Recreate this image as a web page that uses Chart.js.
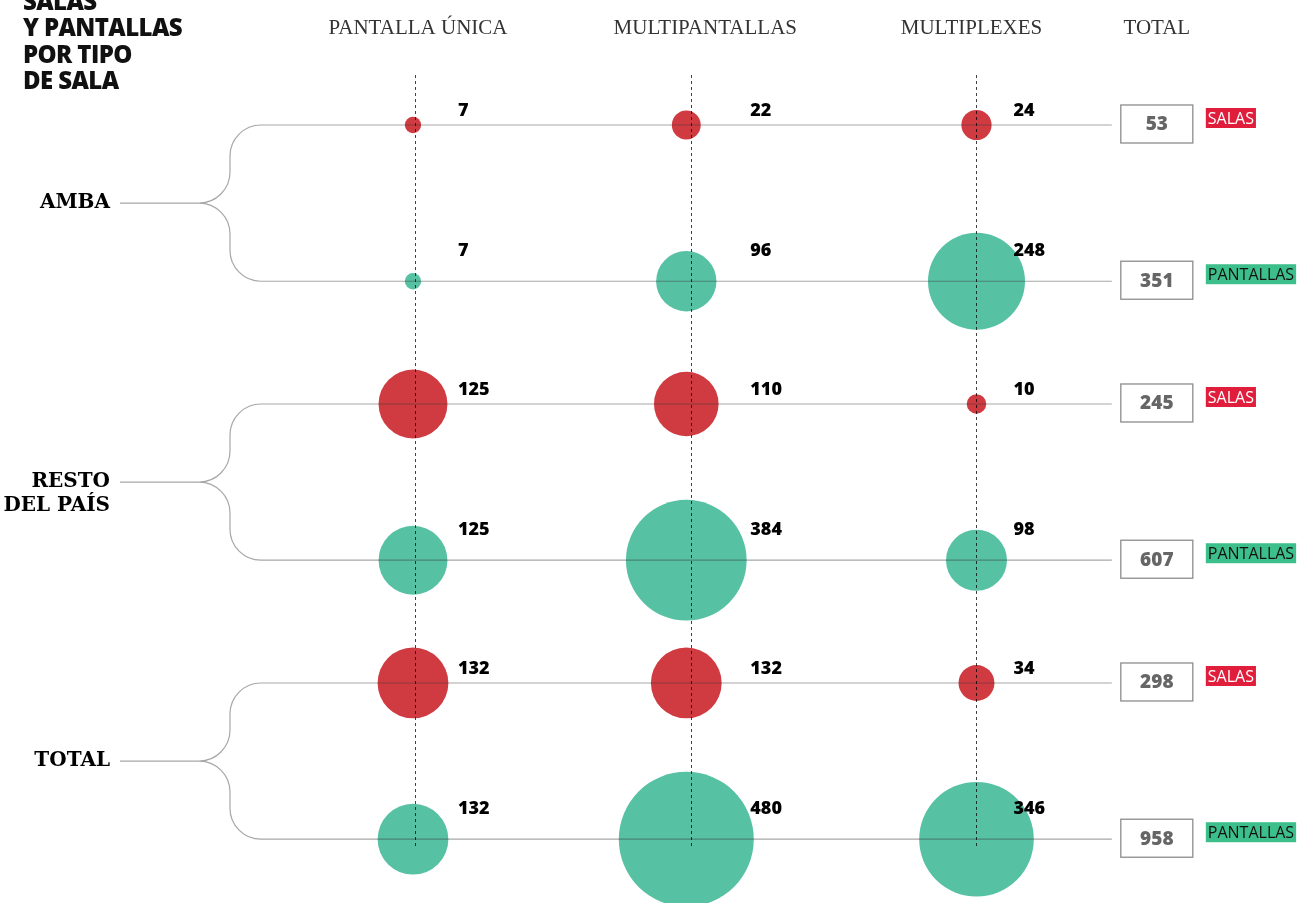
<!DOCTYPE html>
<html>
<head>
<meta charset="utf-8">
<script src="https://cdn.jsdelivr.net/npm/chart.js@4.4.1/dist/chart.umd.min.js"></script>
<style>
  html, body { margin: 0; padding: 0; background: #fff; }
  #wrap { width: 1306px; height: 903px; position: relative; }
</style>
</head>
<body>
<div id="wrap"><canvas id="chart"></canvas></div>
<script>
// --- data ---
const titleLines = ['SALAS', 'Y PANTALLAS', 'POR TIPO', 'DE SALA'];
const columns = ['PANTALLA ÚNICA', 'MULTIPANTALLAS', 'MULTIPLEXES'];
const totalHeader = 'TOTAL';
const regions = [['AMBA'], ['RESTO', 'DEL PAÍS'], ['TOTAL']];
const seriesNames = ['SALAS', 'PANTALLAS'];
const salas = [[7, 22, 24], [125, 110, 10], [132, 132, 34]];
const pantallas = [[7, 96, 248], [125, 384, 98], [132, 480, 346]];
const totalSalas = [53, 245, 298];
const totalPantallas = [351, 607, 958];

// layout constants
const COL_X = [0, 0.97, 2];   // x position of each column on the x scale
const SERIES_GAP = 0.56;      // y distance between salas and pantallas rows (in group units)
const TOTAL_X = 2.64;         // x position of the TOTAL column
const R_UNIT = 3.08;          // bubble radius per sqrt(value), area scaled
const RED = '#d03a41';
const GREEN = '#57c1a3';
const labelDx = [45, 64, 37];
const headerDx = [5, 19, -5];
const dashDx = [2, 5, 0];

function points(values, offset) {
    const out = [];
    values.forEach((row, g) => {
        row.forEach((v, c) => {
            out.push({ x: COL_X[c], y: g + offset, r: R_UNIT * Math.sqrt(v), v: v });
        });
    });
    return out;
}

const decor = {
    id: 'decor',
    afterDatasetsDraw(chart) {
        const { ctx, scales: { x, y } } = chart;
        const totalPx = x.getPixelForValue(TOTAL_X);
        const lineEnd = totalPx - 45;
        ctx.save();

        // brackets + row lines
        ctx.strokeStyle = 'rgba(60,60,60,0.45)';
        ctx.lineWidth = 1.2;
        regions.forEach((lines, g) => {
            const y0 = y.getPixelForValue(g);
            const y1 = y.getPixelForValue(g + SERIES_GAP);
            const mid = (y0 + y1) / 2;
            ctx.beginPath();
            ctx.moveTo(lineEnd, y0);
            ctx.lineTo(262, y0);
            ctx.arcTo(230, y0, 230, mid, 31);
            ctx.arcTo(230, mid, 200, mid, 31);
            ctx.lineTo(120, mid);
            ctx.moveTo(200, mid);
            ctx.arcTo(230, mid, 230, y1, 31);
            ctx.arcTo(230, y1, 262, y1, 31);
            ctx.lineTo(lineEnd, y1);
            ctx.stroke();
        });

        // dashed column guides
        ctx.setLineDash([3, 3]);
        ctx.strokeStyle = 'rgba(0,0,0,0.75)';
        ctx.lineWidth = 1;
        columns.forEach((c, i) => {
            const px = Math.round(x.getPixelForValue(COL_X[i]) + dashDx[i]) + 0.5;
            ctx.beginPath();
            ctx.moveTo(px, 75);
            ctx.lineTo(px, 848);
            ctx.stroke();
        });
        ctx.setLineDash([]);

        // value labels
        ctx.font = '800 18px "Open Sans"';
        ctx.fillStyle = '#000';
        ctx.textAlign = 'left';
        ctx.textBaseline = 'alphabetic';
        [salas, pantallas].forEach((series, s) => {
            series.forEach((row, g) => {
                const py = y.getPixelForValue(g + s * SERIES_GAP);
                row.forEach((v, c) => {
                    ctx.fillText(String(v), x.getPixelForValue(COL_X[c]) + labelDx[c], py + (s === 0 ? -9 : -25));
                });
            });
        });

        // total boxes and tags
        [totalSalas, totalPantallas].forEach((totals, s) => {
            totals.forEach((v, g) => {
                const py = y.getPixelForValue(g + s * SERIES_GAP);
                const cy = py - 1;
                ctx.strokeStyle = '#8c8c8c';
                ctx.lineWidth = 1.3;
                ctx.strokeRect(totalPx - 36, cy - 19, 72, 38);
                ctx.font = '800 19px "Open Sans"';
                ctx.fillStyle = '#666';
                ctx.textAlign = 'center';
                ctx.textBaseline = 'middle';
                ctx.fillText(String(v), totalPx, cy + 1);

                ctx.font = '16px "Open Sans"';
                const w = ctx.measureText(seriesNames[s]).width + 4;
                ctx.fillStyle = s === 0 ? '#e01e3c' : '#3dbf8c';
                ctx.fillRect(totalPx + 49, py - 17, w, 20);
                ctx.fillStyle = s === 0 ? '#fff' : '#111';
                ctx.textAlign = 'left';
                ctx.fillText(seriesNames[s], totalPx + 51, py - 6);
            });
        });

        // region labels
        ctx.font = 'bold 20px "DejaVu Serif"';
        ctx.fillStyle = '#000';
        ctx.textAlign = 'right';
        ctx.textBaseline = 'alphabetic';
        regions.forEach((lines, g) => {
            const mid = (y.getPixelForValue(g) + y.getPixelForValue(g + SERIES_GAP)) / 2;
            lines.forEach((t, k) => ctx.fillText(t, 110, mid + 5 + k * 23.5));
        });

        // column headers
        ctx.font = '21px "Liberation Serif"';
        ctx.fillStyle = '#333';
        ctx.textAlign = 'center';
        columns.forEach((c, i) => ctx.fillText(c, x.getPixelForValue(COL_X[i]) + headerDx[i], 34));
        ctx.fillText(totalHeader, totalPx, 34);

        // title
        ctx.font = '800 24px "Open Sans"';
        ctx.letterSpacing = '-0.6px';
        ctx.fillStyle = '#111';
        ctx.textAlign = 'left';
        titleLines.forEach((t, i) => ctx.fillText(t, 23, 10 + i * 26.4));

        ctx.restore();
    }
};

new Chart(document.getElementById('chart'), {
    type: 'bubble',
    data: {
        datasets: [
            { label: seriesNames[0], data: points(salas, 0), backgroundColor: RED, borderWidth: 0, clip: false },
            { label: seriesNames[1], data: points(pantallas, SERIES_GAP), backgroundColor: GREEN, borderWidth: 0, clip: false }
        ]
    },
    options: {
        responsive: true,
        maintainAspectRatio: false,
        animation: false,
        events: [],
        layout: { padding: 0, autoPadding: false },
        plugins: { legend: { display: false }, tooltip: { enabled: false } },
        scales: {
            x: { type: 'linear', min: -1.4658, max: 3.1695, display: false },
            y: { type: 'linear', reverse: true, min: -0.448, max: 2.7886, display: false }
        }
    },
    plugins: [decor]
});
</script>
</body>
</html>
